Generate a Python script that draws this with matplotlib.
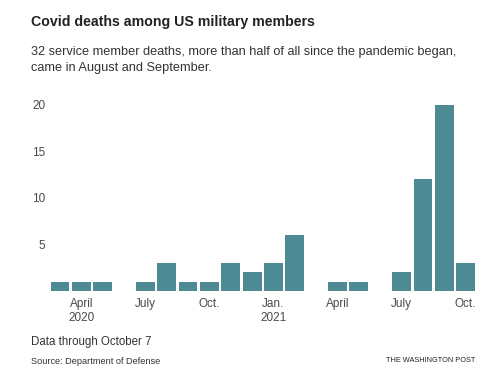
import matplotlib
matplotlib.use('Agg')
import matplotlib.pyplot as plt

# monthly deaths, March 2020 .. October 2021
months = ['Mar', 'Apr', 'May', 'Jun', 'Jul', 'Aug', 'Sep', 'Oct', 'Nov', 'Dec',
          'Jan', 'Feb', 'Mar', 'Apr', 'May', 'Jun', 'Jul', 'Aug', 'Sep', 'Oct']
deaths = [1, 1, 1, 0, 1, 3, 1, 1, 3, 2, 3, 6, 0, 1, 1, 0, 2, 12, 20, 3]

tick_pos = [1, 4, 7, 10, 13, 16, 19]
tick_labels = ['April\n2020', 'July', 'Oct.', 'Jan.\n2021', 'April', 'July', 'Oct.']
y_ticks = [5, 10, 15, 20]

plt.rcParams['font.family'] = ['Liberation Sans', 'DejaVu Sans']

fig = plt.figure(figsize=(5, 3.75), dpi=100)
W, H = 500, 375
# axes placed in pixels: left 48, right 478, baseline 291, top 100
ax = fig.add_axes([48 / W, 1 - 291 / H, 430 / W, 191 / H])

x = list(range(len(deaths)))
ax.bar(x, deaths, width=0.88, color='#4e8a94')
ax.set_xlim(-0.56, 19.58)
ax.set_ylim(0, 20.5)

for s in ax.spines.values():
    s.set_visible(False)
ax.set_yticks(y_ticks)
ax.set_yticklabels([str(v) for v in y_ticks])
ax.set_xticks(tick_pos)
ax.set_xticklabels(tick_labels, linespacing=1.25)
ax.tick_params(axis='both', length=0, labelsize=8.5, colors='#4a4a4a')
ax.tick_params(axis='y', pad=2)
ax.tick_params(axis='x', pad=5)

fig.text(31 / W, 1 - 22 / H, 'Covid deaths among US military members',
         fontsize=10.2, fontweight='bold', color='#222222', va='center')
fig.text(31 / W, 1 - 60 / H,
         '32 service member deaths, more than half of all since the pandemic began,\n'
         'came in August and September.',
         fontsize=9.2, color='#333333', va='center', linespacing=1.45)
fig.text(31 / W, 1 - 342 / H, 'Data through October 7',
         fontsize=8.3, color='#333333', va='center')
fig.text(31 / W, 1 - 361 / H, 'Source: Department of Defense',
         fontsize=6.6, color='#333333', va='center')
fig.text(475 / W, 1 - 361 / H, 'THE WASHINGTON POST',
         fontsize=5.3, color='#222222', va='center', ha='right')

fig.savefig('out.png', dpi=100)
